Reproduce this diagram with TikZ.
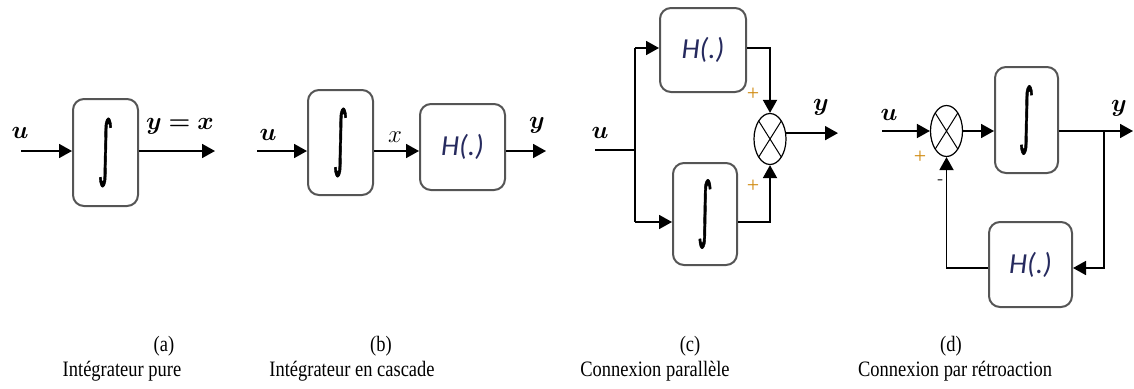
\documentclass[tikz,border=0pt]{standalone}
\usepackage{fontspec}
\usepackage{bm}
\setmainfont{Liberation Serif}
\newfontfamily\dejavu{DejaVu Sans}[FakeBold=1.2]
\newfontfamily\hfont{Carlito}
\usetikzlibrary{arrows.meta,shapes.geometric}
\definecolor{boxgray}{HTML}{555555}
\definecolor{hcol}{HTML}{262A5E}
\definecolor{pluscol}{HTML}{D08A10}
\newcommand\integ{\resizebox{16pt}{54pt}{\dejavu ∫}}
\newcommand\hlab{{\hfont\itshape\fontsize{29}{29}\selectfont\color{hcol}H(.)}}
\newcommand\sqz[1]{\scalebox{0.84}[1]{#1}}
\tikzset{
  blk/.style={draw=boxgray, line width=2pt, rounded corners=11pt, inner sep=0pt},
  ln/.style={line width=1.8pt},
  arr/.style={line width=1.8pt, -{Triangle[length=13pt,width=14pt]}},
  sumnode/.style={draw, ellipse, line width=1.2pt, inner sep=0pt,
    minimum width=32pt, minimum height=51pt,
    path picture={\draw[line width=1pt]
      (path picture bounding box.north west) -- (path picture bounding box.south east)
      (path picture bounding box.north east) -- (path picture bounding box.south west);}},
  lbl/.style={inner sep=0pt, font=\fontsize{29}{29}\selectfont},
  pm/.style={inner sep=0pt, text=pluscol, font=\fontsize{22}{22}\selectfont},
  captext/.style={inner sep=0pt, anchor=base, font=\fontsize{22}{22}\selectfont},
}
\begin{document}
\begin{tikzpicture}[x=1pt,y=-1pt]
\useasboundingbox (0,0) rectangle (1134,388);

% ---------- (a) ----------
\node[blk, minimum width=65pt, minimum height=107pt] (A) at (105.5,152.5) {\integ};
\coordinate (Ain) at (21,151);
\coordinate (Aout) at (215,151);
\draw[arr] (Ain) -- (Ain -| A.west);
\draw[arr] (Aout -| A.east) -- (Aout);
\node[lbl] (Au) at (20,133) {$\bm{u}$};
\node[lbl, font=\fontsize{25}{25}\selectfont] (Ay) at (180,126) {$\bm{y = x}$};

% ---------- (b) ----------
\node[blk, minimum width=65pt, minimum height=105pt] (B1) at (340.5,142.5) {\integ};
\node[blk, minimum width=85pt, minimum height=86pt] (B2) at (462.5,147) {\hlab};
\coordinate (Bin) at (257,151);
\coordinate (Bout) at (546,151);
\draw[arr] (Bin) -- (Bin -| B1.west);
\draw[arr] (Bin -| B1.east) -- (Bin -| B2.west);
\draw[arr] (Bin -| B2.east) -- (Bout);
\node[lbl] (Bu) at (268,135) {$\bm{u}$};
\node[lbl, font=\fontsize{26}{26}\selectfont] (Bx) at (395,137) {$x$};
\node[lbl] (By) at (537,125) {$\bm{y}$};

% ---------- (c) ----------
\node[blk, minimum width=86pt, minimum height=84pt] (C1) at (703,50) {\hlab};
\node[blk, minimum width=64pt, minimum height=102pt] (C2) at (705,214) {\integ};
\node[sumnode] (C3) at (770,139) {};
\coordinate (Cin) at (595,150);
\coordinate (Cj) at (635,150);
\coordinate (Ct) at (635,48);
\coordinate (Cb) at (635,222);
\coordinate (Cout) at (838,133);
\draw[ln] (Cin) -- (Cj);
\draw[ln] (Ct) -- (Cb);
\draw[arr] (Ct) -- (Ct -| C1.west);
\draw[arr] (Cb) -- (Cb -| C2.west);
\draw[arr] (Ct -| C1.east) -| (C3.north);
\draw[arr] (Cb -| C2.east) -| (C3.south);
\draw[arr] (C3.20) -- (C3.20 -| Cout);
\node[lbl] (Cu) at (600,133) {$\bm{u}$};
\node[lbl] (Cy) at (821,107) {$\bm{y}$};
\node[pm] (Cp1) at (753,94) {+};
\node[pm] (Cp2) at (753,186) {+};

% ---------- (d) ----------
\node[sumnode] (D1) at (946.5,131) {};
\node[blk, minimum width=63pt, minimum height=106pt] (D2) at (1026.5,120) {\integ};
\node[blk, minimum width=83pt, minimum height=85pt] (D3) at (1030.5,264.5) {\hlab};
\coordinate (Din) at (882,131);
\coordinate (Dj) at (1104,131);
\coordinate (Dout) at (1133,131);
\coordinate (Dd) at (1104,268);
\coordinate (Dl) at (946.5,268);
\draw[arr] (Din) -- (D1.west);
\draw[arr] (D1.east) -- (D1.east -| D2.west);
\draw[arr] (D1.east -| D2.east) -- (Dout);
\draw[arr] (Dj) -- (Dd) -- (Dd -| D3.east);
\draw[arr] (Dl -| D3.west) -- (Dl) -- (D1.south);
\node[lbl] (Du) at (889,115) {$\bm{u}$};
\node[lbl] (Dy) at (1119,108) {$\bm{y}$};
\node[pm] (Dp) at (920,157) {+};
\node[pm, text=black!75, font=\fontsize{18}{18}\selectfont] (Dm) at (940,182) {-};

% ---------- captions ----------
\node[captext] (ka) at (164,351) {\sqz{(a)}};
\node[captext] (ta) at (122,376) {\sqz{Intégrateur pure}};
\node[captext] (kb) at (381,351) {\sqz{(b)}};
\node[captext] (tb) at (352,376) {\sqz{Intégrateur en cascade}};
\node[captext] (kc) at (690,351) {\sqz{(c)}};
\node[captext] (tc) at (655,376) {\sqz{Connexion parallèle}};
\node[captext] (kd) at (951,351) {\sqz{(d)}};
\node[captext] (td) at (955,376) {\sqz{Connexion par rétroaction}};
\end{tikzpicture}
\end{document}
